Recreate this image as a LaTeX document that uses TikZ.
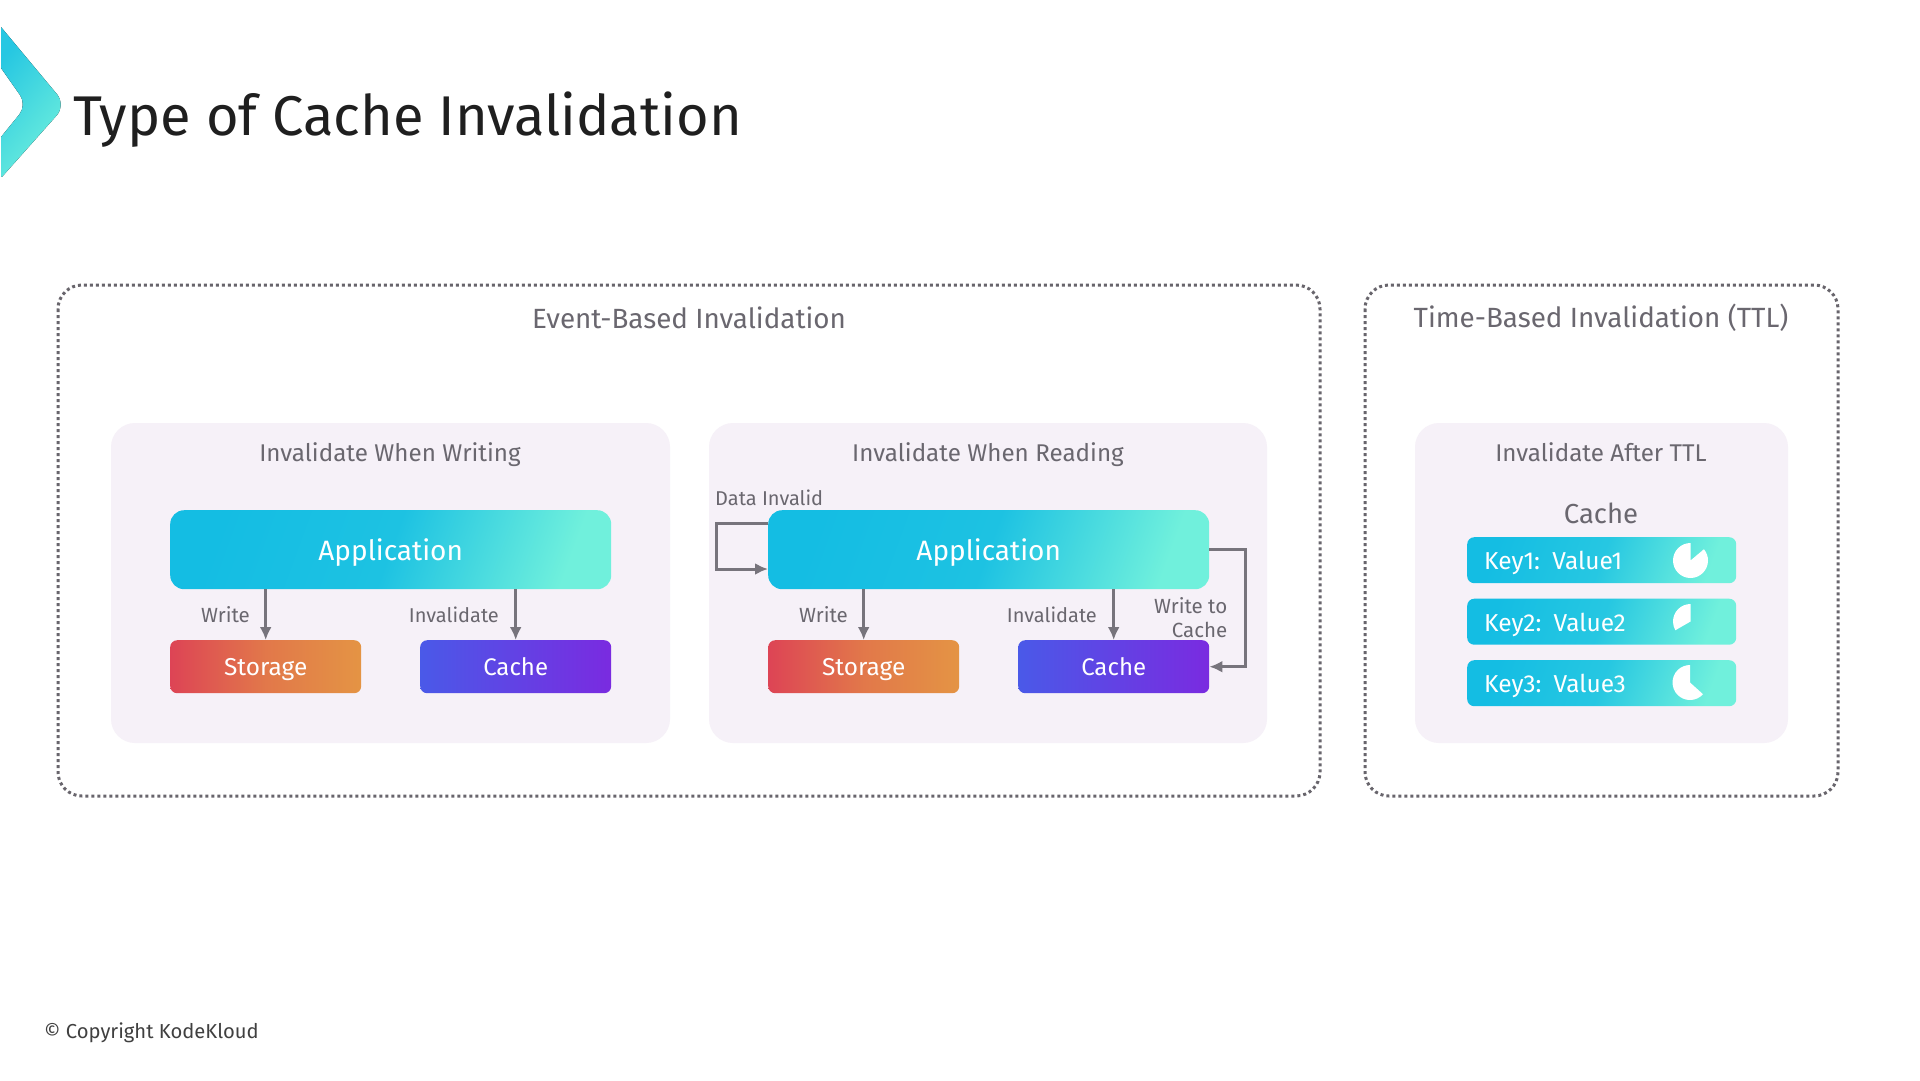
\documentclass[tikz,border=0pt]{standalone}
\usepackage{fontspec}
\setmainfont{Fira Sans}
\usetikzlibrary{arrows.meta}
\definecolor{pan}{HTML}{F6F1F8}
\definecolor{lin}{HTML}{77747C}
\definecolor{dotc}{HTML}{68656C}
\definecolor{txt}{HTML}{6A676F}
\definecolor{t1}{HTML}{14BDE3}\definecolor{t2}{HTML}{70F0DC}
\definecolor{s1}{HTML}{DD4455}\definecolor{s2}{HTML}{E49444}
\definecolor{c1}{HTML}{4A59E8}\definecolor{c2}{HTML}{7A2BE0}
\tikzset{
  x=1pt,y=-1pt,
  box/.style={rounded corners=#1,inner sep=0pt,anchor=north west,text=white,text depth=0pt},
  appbox/.style={box=14pt,minimum width=441pt,minimum height=79pt,left color=t1,right color=t2,middle color=t1!90!t2,shading angle=70,font=\fontsize{28}{28}\selectfont,text height=21pt},
  storebox/.style={box=7pt,minimum width=191pt,minimum height=53pt,left color=s1,right color=s2,middle color=s1!35!s2,font=\fontsize{24.4}{24.4}\selectfont,text height=18pt},
  cachebox/.style={box=7pt,minimum width=191pt,minimum height=53pt,left color=c1,right color=c2,middle color=c1!50!c2,font=\fontsize{24}{24}\selectfont,text height=18pt},
  keybox/.style={box=7pt,minimum width=269pt,minimum height=46pt,left color=t1,right color=t2,middle color=t1!80!t2,shading angle=70,text width=235pt,align=left,font=\fontsize{24.5}{24.5}\selectfont,text height=19pt},
  outer/.style={draw=dotc,line width=3pt,dash pattern=on 3pt off 3pt,rounded corners=24pt,fill=white},
  panel/.style={fill=pan,rounded corners=24pt},
  h1/.style={text=txt,inner sep=0pt,font=\fontsize{27.8}{27.8}\selectfont},
  h2/.style={text=txt,inner sep=0pt,font=\fontsize{24.2}{24.2}\selectfont},
  lab/.style={text=txt,inner sep=0pt,font=\fontsize{20.5}{24}\selectfont},
  labi/.style={lab,font=\fontsize{20}{24}\selectfont},
  conn/.style={draw=lin,line width=3pt,-{Latex[length=13pt,width=12pt]}},
  pie/.style={fill=white},
}
\begin{document}
\begin{tikzpicture}
\useasboundingbox (0,0) rectangle (1920,1080);
\fill[white] (0,0) rectangle (1920,1080);
% logo
\fill[left color=t1!80!t2,right color=t2,shading angle=50]
  (1,27) [rounded corners=14pt] -- (66,105) [rounded corners=2pt] -- (1,178) [sharp corners] -- (1,137) [rounded corners=12pt] -- (27,105) [sharp corners] -- (1,68) -- cycle;
\node[anchor=base west,inner sep=0pt,text=black!88,font=\fontsize{56}{56}\selectfont] (title) at (73,135) {Type of Cache Invalidation};
% outer frames
\draw[outer] (58,285) rectangle (1320,796);
\draw[outer] (1365,285) rectangle (1838,796);
\node[h1] (ev) at (689,317.5) {Event-Based Invalidation};
\node[h1] (tm) at (1601,317.5) {Time-Based Invalidation (TTL)};
% panels
\fill[panel] (111,423) rectangle (670,743);
\fill[panel] (709,423) rectangle (1267,743);
\fill[panel] (1415,423) rectangle (1788,743);
\node[h2] (p1) at (390,455) {Invalidate When Writing};
\node[h2] (p2) at (988,455) {Invalidate When Reading};
\node[h2] (p3) at (1601,452) {Invalidate After TTL};
% left group
\node[appbox] (app1) at (170,510) {Application};
\node[storebox] (st1) at (170,640) {Storage};
\node[cachebox] (ca1) at (420,640) {Cache};
\draw[conn] (st1.north |- app1.south) -- (st1.north);
\draw[conn] (ca1.north |- app1.south) -- (ca1.north);
\node[lab,anchor=east] (w1) at (250,615) {Write};
\node[labi,anchor=east] (i1) at (499,615) {Invalidate};
% right group
\node[appbox] (app2) at (768,510) {Application};
\node[storebox] (st2) at (768,640) {Storage};
\node[cachebox] (ca2) at (1018,640) {Cache};
\draw[conn] (st2.north |- app2.south) -- (st2.north);
\draw[conn] (ca2.north |- app2.south) -- (ca2.north);
\coordinate (la) at (716,523);
\coordinate (lb) at (716,569);
\coordinate (ra) at (1245,549);
\draw[conn] (app2.west |- la) -- (la) -- (lb) -- (app2.west |- lb);
\draw[conn] (app2.east |- ra) -- (ra) -- (ra |- ca2.east) -- (ca2.east);
\node[lab,anchor=east] (w2) at (848,615) {Write};
\node[labi,anchor=east] (i2) at (1097,615) {Invalidate};
\node[labi,anchor=west] (di) at (715,498) {Data Invalid};
\node[lab,anchor=east,align=right] (wc) at (1227.5,618) {Write to\\Cache};
% TTL
\node[h1,font=\fontsize{27.5}{27.5}\selectfont] (cc) at (1601,513) {Cache};
\node[keybox] (k1) at (1467,537) {Key1: Value1};
\node[keybox] (k2) at (1467,598.5) {Key2: Value2};
\node[keybox] (k3) at (1467,660) {Key3: Value3};
\coordinate (c1p) at (1690.5,560.5);
\coordinate (c2p) at (1690.5,621.5);
\coordinate (c3p) at (1690,682.5);
\fill[pie] (c1p) -- ++(0,-17.5) arc[start angle=-90,delta angle=-310,radius=17.5] -- cycle;
\fill[pie] (c2p) -- ++(0,-17.5) arc[start angle=-90,delta angle=-120,radius=17.5] -- cycle;
\fill[pie] (c3p) -- ++(0,-17.5) arc[start angle=-90,delta angle=-228,radius=17.5] -- cycle;
\node[anchor=west,inner sep=0pt,text=black!75,font=\fontsize{20.2}{20.2}\selectfont] (cp) at (44,1032.5) {© Copyright KodeKloud};
\end{tikzpicture}
\end{document}
